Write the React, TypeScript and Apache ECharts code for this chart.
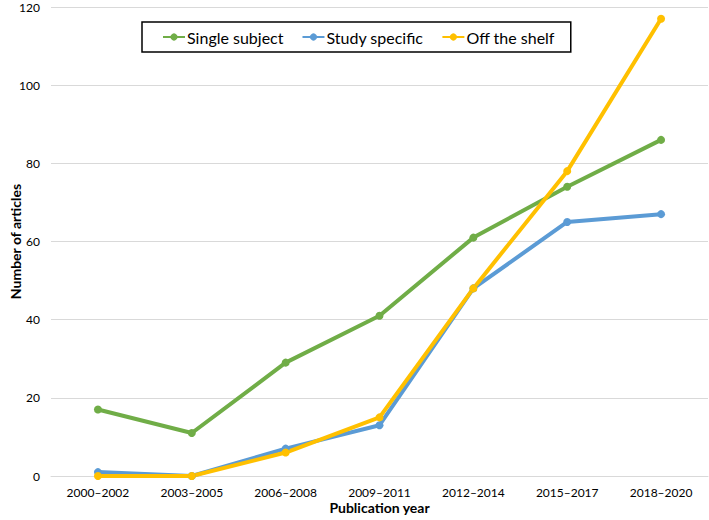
import React, { useEffect, useRef } from "react";
import * as echarts from "echarts";

const categories = ["2000–2002", "2003–2005", "2006–2008", "2009–2011", "2012–2014", "2015–2017", "2018–2020"];
const singleSubject = [17, 11, 29, 41, 61, 74, 86];
const studySpecific = [1, 0, 7, 13, 48, 65, 67];
const offTheShelf = [0, 0, 6, 15, 48, 78, 117];

const FONT = "Lato, 'Open Sans', sans-serif";

export default function App() {
  const ref = useRef<HTMLDivElement>(null);
  useEffect(() => {
    const chart = echarts.init(ref.current!, null, { renderer: "svg" });
    const mk = (name: string, data: number[], color: string) => ({
      name,
      type: "line",
      data,
      symbol: "circle",
      symbolSize: 8,
      lineStyle: { width: 4, color },
      itemStyle: { color },
    });
    chart.setOption({
      animation: false,
      textStyle: { fontFamily: FONT },
      legend: {
        left: 142,
        top: 22,
        borderColor: "#000",
        borderWidth: 1.5,
        padding: [7, 16, 7, 20],
        itemGap: 18,
        itemWidth: 22,
        itemHeight: 9,
        textStyle: { fontSize: 16, color: "#000", fontFamily: FONT, padding: [0, 0, 0, -3] },
        data: ["Single subject", "Study specific", "Off the shelf"],
      },
      grid: { left: 51, right: 1, top: 7, bottom: 44, outerBoundsMode: "none" },
      xAxis: {
        type: "category",
        data: categories,
        name: "Publication year",
        nameLocation: "middle",
        nameGap: 24,
        nameMoveOverlap: false,
        nameTextStyle: { fontSize: 14, fontWeight: "bold", color: "#000" },
        axisLine: { lineStyle: { color: "#d9d9d9" } },
        axisTick: { show: false },
        axisLabel: { fontSize: 12, color: "#000", margin: 10, interval: 0 },
      },
      yAxis: {
        type: "value",
        min: 0,
        max: 120,
        interval: 20,
        name: "Number of articles",
        nameLocation: "middle",
        nameGap: 29,
        nameMoveOverlap: false,
        nameTextStyle: { fontSize: 14, fontWeight: "bold", color: "#000" },
        axisLine: { show: false },
        axisTick: { show: false },
        axisLabel: { fontSize: 12, color: "#000", margin: 11 },
        splitLine: { lineStyle: { color: "#d9d9d9" } },
      },
      series: [
        mk("Single subject", singleSubject, "#70AD47"),
        mk("Study specific", studySpecific, "#5B9BD5"),
        mk("Off the shelf", offTheShelf, "#FFC000"),
      ],
    });
    return () => chart.dispose();
  }, []);
  return <div ref={ref} style={{ position: "absolute", left: 0, top: 0, width: 709, height: 520 }} />;
}
